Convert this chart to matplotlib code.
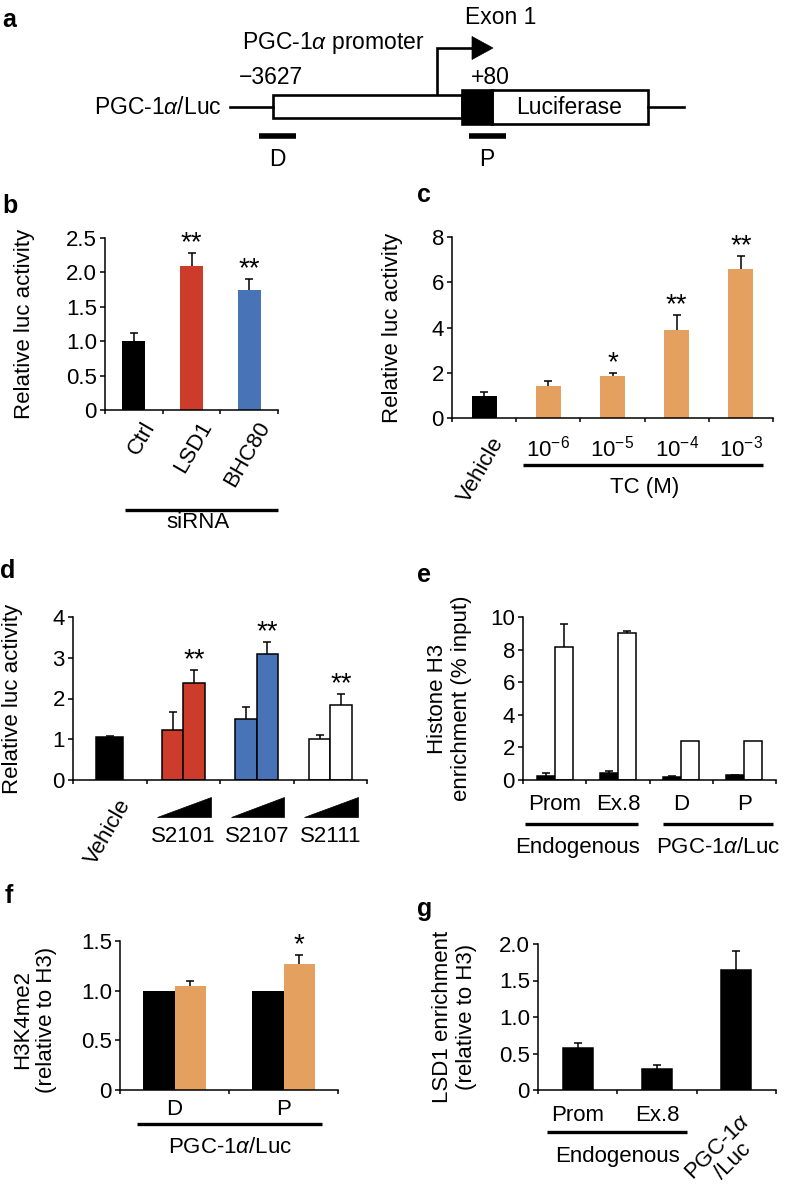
import numpy as np
import matplotlib
matplotlib.use('Agg')
import matplotlib.pyplot as plt
import matplotlib.transforms as mtransforms
from matplotlib.patches import Rectangle, Polygon

plt.rcParams['font.family'] = ['Liberation Sans', 'DejaVu Sans']
plt.rcParams['mathtext.fontset'] = 'custom'
plt.rcParams['mathtext.rm'] = 'Liberation Sans'
plt.rcParams['mathtext.it'] = 'Liberation Sans:italic'
plt.rcParams['mathtext.bf'] = 'Liberation Sans:bold'
plt.rcParams['axes.linewidth'] = 1.1

# ---------------- data ----------------
BLACK, RED, BLUE, ORANGE = '#000000', '#CD3C2B', '#4873B7', '#E3A05E'

b_cats = ['Ctrl', 'LSD1', 'BHC80']
b_vals = [1.0, 2.09, 1.75]
b_errs = [0.12, 0.19, 0.15]
b_colors = [BLACK, RED, BLUE]
b_stars = ['', '**', '**']
b_yticks = [0, 0.5, 1.0, 1.5, 2.0, 2.5]
b_yticklabels = ['0', '0.5', '1.0', '1.5', '2.0', '2.5']

c_cats = ['Vehicle', '10$^{-6}$', '10$^{-5}$', '10$^{-4}$', '10$^{-3}$']
c_vals = [0.98, 1.40, 1.84, 3.90, 6.60]
c_errs = [0.19, 0.25, 0.17, 0.66, 0.55]
c_colors = [BLACK, ORANGE, ORANGE, ORANGE, ORANGE]
c_stars = ['', '', '*', '**', '**']
c_yticks = [0, 2, 4, 6, 8]

d_vehicle_val = [1.05]
d_vehicle_err = [0.02]
d_groups = ['S2101', 'S2107', 'S2111']
d_low = [1.22, 1.49, 1.00]
d_low_err = [0.44, 0.31, 0.11]
d_high = [2.37, 3.10, 1.85]
d_high_err = [0.33, 0.29, 0.26]
d_colors = [RED, BLUE, '#FFFFFF']
d_stars = ['**', '**', '**']
d_yticks = [0, 1, 2, 3, 4]

e_cats = ['Prom', 'Ex.8', 'D', 'P']
e_black = [0.25, 0.40, 0.18, 0.28]
e_black_err = [0.18, 0.14, 0.07, 0.05]
e_white = [8.15, 9.04, 2.38, 2.38]
e_white_err = [1.40, 0.08, 0.0, 0.0]
e_yticks = [0, 2, 4, 6, 8, 10]

f_cats = ['D', 'P']
f_black = [1.0, 1.0]
f_orange = [1.05, 1.27]
f_orange_err = [0.05, 0.09]
f_stars = ['', '*']
f_yticks = [0, 0.5, 1.0, 1.5]
f_yticklabels = ['0', '0.5', '1.0', '1.5']

g_cats = ['Prom', 'Ex.8', 'PGC-1$\\alpha$\n/Luc']
g_vals = [0.58, 0.29, 1.65]
g_errs = [0.07, 0.05, 0.25]
g_yticks = [0, 0.5, 1.0, 1.5, 2.0]
g_yticklabels = ['0', '0.5', '1.0', '1.5', '2.0']

# ---------------- layout ----------------
W, H, DPI = 788, 1200, 100
FS = 16
STAR_FS = 20
fig = plt.figure(figsize=(W / DPI, H / DPI), dpi=DPI)


def add_ax(x0, y0, x1, y1):
    return fig.add_axes([x0 / W, 1 - y1 / H, (x1 - x0) / W, (y1 - y0) / H])


def below(ax, px, dx=0):
    return ax.get_xaxis_transform() + mtransforms.ScaledTranslation(
        dx / DPI, -px / DPI, fig.dpi_scale_trans)


def style(ax, ymax, yticks, ylabels, ncat, ylabel, lab_x, lab_y=0.5):
    for s in ['top', 'right']:
        ax.spines[s].set_visible(False)
    ax.set_ylim(0, ymax)
    ax.set_xlim(-0.5, ncat - 0.5)
    ax.set_yticks(yticks)
    ax.set_yticklabels(ylabels if ylabels else [str(t) for t in yticks])
    ax.set_xticks(np.arange(ncat + 1) - 0.5)
    ax.set_xticklabels([])
    ax.tick_params(axis='y', length=3.6, width=1.1, pad=2.2, labelsize=FS)
    ax.tick_params(axis='x', length=3, width=1.1)
    ax.set_ylabel(ylabel, fontsize=FS, linespacing=1.2)
    ax.yaxis.set_label_coords(lab_x, lab_y)


def up_err(ax, x, vals, errs):
    x = np.asarray(x, float)
    vals = np.asarray(vals, float)
    errs = np.asarray(errs, float)
    m = errs > 0
    if not m.any():
        return
    eb = ax.errorbar(x[m], vals[m], yerr=[np.zeros(m.sum()), errs[m]], fmt='none',
                     ecolor='k', elinewidth=1.1, capsize=2.6, capthick=1.1, zorder=3)
    eb[1][0].set_visible(False)


def stars(ax, x, tops, marks, dy=2):
    for xi, t, mk in zip(x, tops, marks):
        if mk:
            ax.annotate(mk, xy=(xi, t), xytext=(0, dy), textcoords='offset points',
                        ha='center', va='baseline', fontsize=STAR_FS)


def xtext(ax, x, px, s, dx=0, **kw):
    kw.setdefault('ha', 'center')
    kw.setdefault('va', 'baseline')
    kw.setdefault('fontsize', FS)
    ax.text(x, 0, s, transform=below(ax, px, dx), clip_on=False, **kw)


def xline(ax, x0, x1, px, lw=2.4):
    ax.plot([x0, x1], [0, 0], transform=below(ax, px), color='k', lw=lw,
            clip_on=False, solid_capstyle='butt')


def label(x, y, s):
    fig.text(x / W, 1 - y / H, s, fontsize=18, fontweight='bold', ha='left', va='baseline')


# ---------------- panel a (schematic) ----------------
ax_a = fig.add_axes([0, 1 - 185 / H, 1, 185 / H])
ax_a.set_xlim(0, W)
ax_a.set_ylim(185, 0)
ax_a.axis('off')
AFS = 16.5
LW_A = 1.9
ax_a.plot([230, 273], [107, 107], color='k', lw=LW_A)
ax_a.plot([648, 684], [107, 107], color='k', lw=LW_A)
ax_a.add_patch(Rectangle((273, 95), 189, 23, fc='white', ec='k', lw=LW_A))
ax_a.add_patch(Rectangle((492, 90), 156, 34, fc='white', ec='k', lw=LW_A))
ax_a.add_patch(Rectangle((462, 90), 30, 34, fc='k', ec='k', lw=LW_A))
ax_a.plot([437, 437, 474], [94, 48, 48], color='k', lw=LW_A, solid_joinstyle='miter')
ax_a.add_patch(Polygon([[472, 36.5], [493, 48], [472, 59.5]], closed=True, fc='k', ec='k', lw=0.5))
ax_a.plot([259, 296], [136, 136], color='k', lw=4, solid_capstyle='butt')
ax_a.plot([469, 506], [136, 136], color='k', lw=4, solid_capstyle='butt')
ax_a.text(222, 107, 'PGC-1$\\alpha$/Luc', fontsize=AFS, ha='right', va='center')
ax_a.text(242, 43, 'PGC-1$\\alpha$ promoter', fontsize=AFS, ha='left', va='center')
ax_a.text(239, 77, '\u22123627', fontsize=AFS, ha='left', va='center')
ax_a.text(471, 77, '+80', fontsize=AFS, ha='left', va='center')
ax_a.text(501, 18, 'Exon 1', fontsize=AFS, ha='center', va='center')
ax_a.text(569, 107, 'Luciferase', fontsize=AFS, ha='center', va='center')
ax_a.text(277, 159, 'D', fontsize=AFS, ha='center', va='center')
ax_a.text(487, 159, 'P', fontsize=AFS, ha='center', va='center')
label(2, 27, 'a')

# ---------------- panel b ----------------
ax = add_ax(105, 238, 278, 410)
xb = np.arange(len(b_cats))
ax.bar(xb, b_vals, width=0.40, color=b_colors, edgecolor='none')
up_err(ax, xb, b_vals, b_errs)
stars(ax, xb, np.add(b_vals, b_errs), b_stars)
style(ax, 2.5, b_yticks, b_yticklabels, len(b_cats), 'Relative luc activity', -0.405)
for i, s in enumerate(b_cats):
    xtext(ax, i, 8, s, dx=7, rotation=60, ha='right', va='top', rotation_mode='anchor')
xline(ax, -0.15, 2.5, 100)
xtext(ax, 1.11, 118, 'siRNA')
label(2, 213, 'b')

# ---------------- panel c ----------------
ax = add_ax(452, 237, 773, 418)
xc = np.arange(len(c_cats))
ax.bar(xc, c_vals, width=0.39, color=c_colors, edgecolor='none')
up_err(ax, xc, c_vals, c_errs)
stars(ax, xc, np.add(c_vals, c_errs), c_stars)
style(ax, 8, c_yticks, None, len(c_cats), 'Relative luc activity', -0.153)
xtext(ax, 0, 16, c_cats[0], dx=6, rotation=60, ha='right', va='top', rotation_mode='anchor')
for i in range(1, len(c_cats)):
    xtext(ax, i, 38, c_cats[i])
xline(ax, 0.606, 4.34, 47)
xtext(ax, 2.5, 75, 'TC (M)')
label(417, 202, 'c')

# ---------------- panel d ----------------
ax = add_ax(73, 617, 367, 780)
ax.bar([0], d_vehicle_val, width=0.37, color=BLACK, edgecolor='k', lw=1.1)
up_err(ax, [0], d_vehicle_val, d_vehicle_err)
xg = np.arange(1, len(d_groups) + 1)
bw = 0.29
ax.bar(xg - bw / 2, d_low, width=bw, color=d_colors, edgecolor='k', lw=1.1)
ax.bar(xg + bw / 2, d_high, width=bw, color=d_colors, edgecolor='k', lw=1.1)
up_err(ax, xg - bw / 2, d_low, d_low_err)
up_err(ax, xg + bw / 2, d_high, d_high_err)
stars(ax, xg + bw / 2, np.add(d_high, d_high_err), d_stars)
style(ax, 4, d_yticks, None, len(d_groups) + 1, 'Relative luc activity', -0.170)
xtext(ax, 0, 16, 'Vehicle', dx=7, rotation=60, ha='right', va='top', rotation_mode='anchor')
axh = 163.0
for i, s in enumerate(d_groups):
    c = xg[i]
    tri = Polygon([[c - 0.355, -37 / axh], [c + 0.375, -37 / axh], [c + 0.375, -17 / axh]],
                  closed=True, fc='k', ec='k', lw=0.5, transform=ax.get_xaxis_transform(),
                  clip_on=False)
    ax.add_patch(tri)
    xtext(ax, c, 62, s)
label(0, 578, 'd')

# ---------------- panel e ----------------
ax = add_ax(523, 617, 776, 780)
xe = np.arange(len(e_cats))
ew = 0.285
ax.bar(xe - ew / 2, e_black, width=ew, color=BLACK, edgecolor='k', lw=1.1)
ax.bar(xe + ew / 2, e_white, width=ew, color='white', edgecolor='k', lw=1.1)
up_err(ax, xe - ew / 2, e_black, e_black_err)
up_err(ax, xe + ew / 2, e_white, e_white_err)
style(ax, 10, e_yticks, None, len(e_cats), 'Histone H3\nenrichment (% input)', -0.202)
for i, s in enumerate(e_cats):
    xtext(ax, i, 30, s)
xline(ax, -0.47, 1.32, 44)
xline(ax, 1.72, 3.45, 44)
xtext(ax, 0.36, 73, 'Endogenous')
xtext(ax, 2.58, 73, 'PGC-1$\\alpha$/Luc')
label(417, 582, 'e')

# ---------------- panel f ----------------
ax = add_ax(120, 941, 338, 1090)
xf = np.arange(len(f_cats))
fw = 0.285
ax.bar(xf - fw / 2, f_black, width=fw, color=BLACK, edgecolor='none')
ax.bar(xf + fw / 2, f_orange, width=fw, color=ORANGE, edgecolor='none')
up_err(ax, xf + fw / 2, f_orange, f_orange_err)
stars(ax, xf + fw / 2, np.add(f_orange, f_orange_err), f_stars)
style(ax, 1.5, f_yticks, f_yticklabels, len(f_cats), 'H3K4me2\n(relative to H3)', -0.289, 0.47)
for i, s in enumerate(f_cats):
    xtext(ax, i, 25, s)
xline(ax, -0.344, 1.353, 34)
xtext(ax, 0.509, 63, 'PGC-1$\\alpha$/Luc')
label(5, 903, 'f')

# ---------------- panel g ----------------
ax = add_ax(538, 944, 776, 1090)
xgg = np.arange(len(g_cats))
ax.bar(xgg, g_vals, width=0.38, color=BLACK, edgecolor='k', lw=1.1)
up_err(ax, xgg, g_vals, g_errs)
style(ax, 2.0, g_yticks, g_yticklabels, len(g_cats), 'LSD1 enrichment\n(relative to H3)', -0.256)
for i in range(2):
    xtext(ax, i, 31, g_cats[i])
xtext(ax, 2, 20, g_cats[2], dx=4, rotation=45, ha='right', va='top',
      rotation_mode='anchor', multialignment='center', linespacing=1.0)
xline(ax, -0.386, 1.379, 42)
xtext(ax, 0.496, 72, 'Endogenous')
label(417, 916, 'g')

fig.savefig('out.png', dpi=DPI)
